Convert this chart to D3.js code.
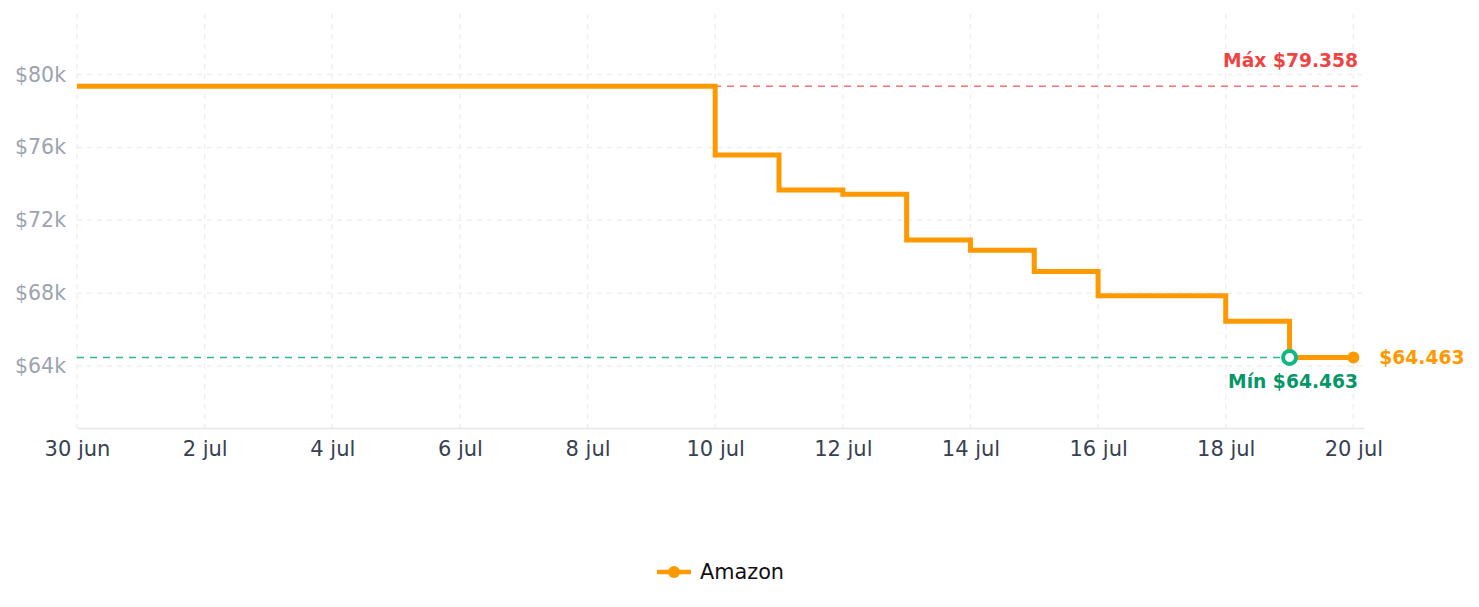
<!doctype html>
<html lang="es">
<head>
    <meta charset="UTF-8" />
    <title>Historial de precio</title>
    <script src="https://d3js.org/d3.v7.min.js"></script>
    <style>
        body, html {
            margin: 0;
            padding: 0;
            background: #fff;
            overflow: hidden;
        }

        svg {
            display: block;
            font-family: "DejaVu Sans", sans-serif;
        }

        .grid line {
            stroke: #efefef;
            stroke-width: 1.5px;
            stroke-dasharray: 5 5;
        }

        .ref-label {
            font-size: 18.7px;
            font-weight: bold;
        }
    </style>
</head>
<body>
    <svg id="chart"></svg>

    <script>
        // price history (one point per change day)
        const dates = ["2024-06-30", "2024-07-10", "2024-07-11", "2024-07-12", "2024-07-13",
                       "2024-07-14", "2024-07-15", "2024-07-16", "2024-07-18", "2024-07-19", "2024-07-20"];
        const prices = [79358, 75579, 73663, 73427, 70924, 70350, 69188, 67858, 66450, 64463, 64463];
        const seriesName = "Amazon";
        const yTicks = [64000, 68000, 72000, 76000, 80000];
        const monthNames = ["ene", "feb", "mar", "abr", "may", "jun", "jul", "ago", "sep", "oct", "nov", "dic"];

        const width = 1479;
        const height = 607;
        const margin = { top: 14, right: 115, bottom: 179, left: 77 };

        const svg = d3.select("#chart")
            .attr("width", width)
            .attr("height", height);

        const parse = d3.timeParse("%Y-%m-%d");
        const data = dates.map((d, i) => ({ date: parse(dates[i]), price: prices[i] }));

        const minPrice = d3.min(prices);
        const maxPrice = d3.max(prices);
        const minPoint = data.find(d => d.price === minPrice);
        const lastPoint = data[data.length - 1];

        const es = d3.formatLocale({ decimal: ",", thousands: ".", grouping: [3], currency: ["$", ""] });
        const money = es.format("$,.0f");

        const xEnd = d3.timeHour.offset(lastPoint.date, 4.5);
        const x = d3.scaleTime()
            .domain([data[0].date, xEnd])
            .range([margin.left, width - margin.right]);

        const y = d3.scaleLinear()
            .domain([minPrice * 0.94, maxPrice * 1.05])
            .range([height - margin.bottom, margin.top]);

        const xTicks = d3.timeDay.range(data[0].date, d3.timeDay.offset(lastPoint.date, 1), 2);
        const fmtDay = d => d.getDate() + " " + monthNames[d.getMonth()];

        // grid
        const grid = svg.append("g").attr("class", "grid");
        grid.selectAll(".vg").data(xTicks).join("line")
            .attr("x1", d => x(d)).attr("x2", d => x(d))
            .attr("y1", y.range()[1]).attr("y2", y.range()[0]);
        grid.selectAll(".hg").data(yTicks).join("line")
            .attr("x1", x.range()[0]).attr("x2", x.range()[1])
            .attr("y1", d => y(d)).attr("y2", d => y(d));

        // x axis
        const xAxis = svg.append("g")
            .attr("transform", `translate(0,${y.range()[0]})`)
            .call(d3.axisBottom(x).tickValues(xTicks).tickFormat(fmtDay).tickSize(0).tickPadding(13));
        xAxis.select(".domain").attr("stroke", "#e5e7eb").attr("stroke-width", 1.5);
        xAxis.selectAll("text").attr("fill", "#374151")
            .style("font-family", "DejaVu Sans").style("font-size", "21px");

        // y axis
        const yAxis = svg.append("g")
            .attr("transform", `translate(${x.range()[0]},0)`)
            .call(d3.axisLeft(y).tickValues(yTicks).tickFormat(d => "$" + d / 1000 + "k").tickSize(0).tickPadding(11));
        yAxis.select(".domain").remove();
        yAxis.selectAll("text").attr("fill", "#9ca3af")
            .style("font-family", "DejaVu Sans").style("font-size", "20.5px");

        // reference lines
        svg.append("line")
            .attr("x1", x.range()[0]).attr("x2", x.range()[1])
            .attr("y1", y(maxPrice)).attr("y2", y(maxPrice))
            .attr("stroke", "#f87171").attr("stroke-width", 1.6).attr("stroke-dasharray", "7 6");
        svg.append("line")
            .attr("x1", x.range()[0]).attr("x2", x.range()[1])
            .attr("y1", y(minPrice)).attr("y2", y(minPrice))
            .attr("stroke", "#34b48a").attr("stroke-width", 1.6).attr("stroke-dasharray", "7 6");

        // price line
        const line = d3.line()
            .x(d => x(d.date))
            .y(d => y(d.price))
            .curve(d3.curveStepAfter);

        svg.append("path")
            .datum(data)
            .attr("fill", "none")
            .attr("stroke", "#ff9900")
            .attr("stroke-width", 5)
            .attr("stroke-linejoin", "miter")
            .attr("d", line);

        // markers
        svg.append("circle")
            .attr("cx", x(lastPoint.date)).attr("cy", y(lastPoint.price))
            .attr("r", 6).attr("fill", "#ff9900");

        svg.append("circle")
            .attr("cx", x(minPoint.date)).attr("cy", y(minPoint.price))
            .attr("r", 6.5).attr("fill", "#fff")
            .attr("stroke", "#10b981").attr("stroke-width", 4);

        // labels
        const labelRight = x.range()[1] - 6;
        svg.append("text")
            .attr("class", "ref-label")
            .attr("x", labelRight).attr("y", y(maxPrice) - 26)
            .attr("dy", "0.35em")
            .attr("text-anchor", "end")
            .attr("fill", "#ef4444")
            .text("Máx " + money(maxPrice));

        svg.append("text")
            .attr("class", "ref-label")
            .attr("x", labelRight).attr("y", y(minPrice) + 24)
            .attr("dy", "0.35em")
            .attr("text-anchor", "end")
            .attr("fill", "#059669")
            .text("Mín " + money(minPrice));

        svg.append("text")
            .attr("class", "ref-label")
            .attr("x", x(lastPoint.date) + 26).attr("y", y(lastPoint.price))
            .attr("dy", "0.35em")
            .attr("fill", "#ff9900")
            .text(money(lastPoint.price));

        // legend
        const legend = svg.append("g").attr("transform", "translate(657,572)");
        legend.append("line")
            .attr("x1", 0).attr("x2", 34)
            .attr("stroke", "#ff9900").attr("stroke-width", 4.5);
        legend.append("circle")
            .attr("cx", 17).attr("r", 6).attr("fill", "#ff9900");
        legend.append("text")
            .attr("x", 43).attr("dy", "0.35em")
            .attr("fill", "#111")
            .style("font-size", "20.8px")
            .text(seriesName);
    </script>
</body>
</html>
